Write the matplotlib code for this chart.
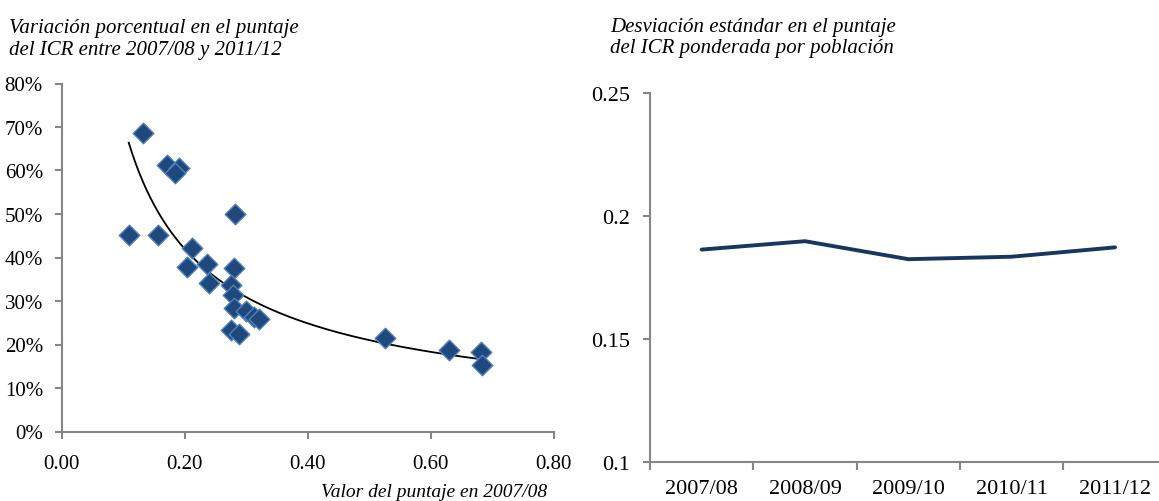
import numpy as np
import matplotlib.pyplot as plt
from matplotlib.ticker import FuncFormatter

# left panel: ICR score in 2007/08 vs. % change to 2011/12
score_0708 = [0.133, 0.171, 0.190, 0.185, 0.282, 0.109, 0.157, 0.212, 0.204, 0.237,
              0.280, 0.240, 0.275, 0.278, 0.280, 0.300, 0.312, 0.320, 0.275, 0.288,
              0.526, 0.630, 0.682, 0.683]
pct_change = [0.686, 0.613, 0.606, 0.594, 0.501, 0.452, 0.452, 0.422, 0.379, 0.384,
              0.377, 0.341, 0.337, 0.314, 0.285, 0.277, 0.263, 0.258, 0.233, 0.223,
              0.216, 0.187, 0.183, 0.154]

# right panel: population-weighted std. dev. of ICR score
years = ["2007/08", "2008/09", "2009/10", "2010/11", "2011/12"]
std_dev = [0.1864, 0.1898, 0.1825, 0.1835, 0.1873]

serif = "Liberation Serif"
plt.rcParams["font.family"] = serif
axis_grey = "#868686"

fig = plt.figure(figsize=(11.59, 5.02), dpi=100)

# ---- scatter with power trend line ----
ax1 = fig.add_axes([61.7 / 1159, 1 - 432.5 / 502, 492 / 1159, 348 / 502])
ax1.scatter(score_0708, pct_change, marker="D", s=110, color="#1F497D",
            edgecolors="#4F81BD", linewidths=1.0, zorder=3)

x = np.array(score_0708)
y = np.array(pct_change)
b, log_a = np.polyfit(np.log(x), np.log(y), 1)
xs = np.linspace(x.min(), x.max(), 200)
ax1.plot(xs, np.exp(log_a) * xs ** b, color="black", lw=1.3, zorder=2)

ax1.set_xlim(0, 0.8)
ax1.set_ylim(0, 0.8)
ax1.set_xticks(np.arange(0, 0.81, 0.2))
ax1.set_yticks(np.arange(0, 0.81, 0.1))
ax1.xaxis.set_major_formatter(FuncFormatter(lambda v, p: f"{v:.2f}"))
ax1.yaxis.set_major_formatter(FuncFormatter(lambda v, p: f"{v * 100:.0f}%"))
ax1.tick_params(axis="y", labelsize=15, direction="out", length=5, width=1.5,
                color=axis_grey, pad=8.5)
ax1.tick_params(axis="x", labelsize=15, direction="out", length=5, width=1.5,
                color=axis_grey, pad=11)

for sp in ["top", "right"]:
    ax1.spines[sp].set_visible(False)
for sp in ["left", "bottom"]:
    ax1.spines[sp].set_color(axis_grey)
    ax1.spines[sp].set_linewidth(1.5)

# ---- line chart ----
ax2 = fig.add_axes([650 / 1159, 1 - 463.3 / 502, 516.7 / 1159, 369.3 / 502])
ax2.plot(range(len(years)), std_dev, color="#17375E", lw=2.8, solid_capstyle="round")
ax2.set_xlim(-0.5, len(years) - 0.5)
ax2.set_ylim(0.1, 0.25)
ax2.set_yticks([0.1, 0.15, 0.2, 0.25])
ax2.set_yticklabels(["0.1", "0.15", "0.2", "0.25"])
ax2.set_xticks(np.arange(-0.5, len(years), 1), minor=False)
ax2.set_xticklabels([])
ax2.set_xticks(range(len(years)), minor=True)
ax2.set_xticklabels(years, minor=True)
ax2.tick_params(axis="x", which="major", direction="out", length=6, width=1.5,
                color=axis_grey)
ax2.tick_params(axis="x", which="minor", length=0, labelsize=16, pad=12)
ax2.tick_params(axis="y", labelsize=16, direction="out", length=5, width=1.5,
                color=axis_grey, pad=9.5)

for sp in ["top", "right"]:
    ax2.spines[sp].set_visible(False)
for sp in ["left", "bottom"]:
    ax2.spines[sp].set_color(axis_grey)
    ax2.spines[sp].set_linewidth(1.5)

# ---- titles ----
fig.text(9 / 1159, 1 - 55 / 502,
         "Variación porcentual en el puntaje\ndel ICR entre 2007/08 y 2011/12",
         fontsize=15, fontstyle="italic", ha="left", va="baseline", linespacing=1.2)
fig.text(610 / 1159, 1 - 53.5 / 502,
         "Desviación estándar en el puntaje\ndel ICR ponderada por población",
         fontsize=15, fontstyle="italic", ha="left", va="baseline", linespacing=1.2)
fig.text(547 / 1159, 1 - 497 / 502, "Valor del puntaje en 2007/08",
         fontsize=14, fontstyle="italic", ha="right", va="baseline")

fig.savefig("out.png", dpi=100)
